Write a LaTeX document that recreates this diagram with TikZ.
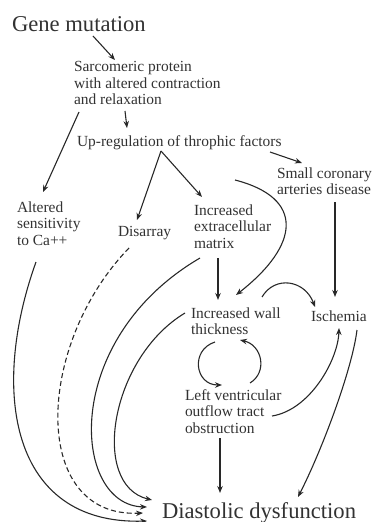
\documentclass[tikz,border=0pt]{standalone}
\usepackage{fontspec}
\setmainfont{Liberation Serif}
\usetikzlibrary{arrows.meta,calc}
\definecolor{ink}{RGB}{40,40,40}
\definecolor{txt}{RGB}{50,50,50}
\begin{document}
\begin{tikzpicture}[x=1bp,y=-1bp,
  sm/.style={anchor=north west,inner sep=0pt,outer sep=0pt,align=left,text=txt,font=\fontsize{15.5}{16.6}\selectfont},
  big/.style={anchor=north west,inner sep=0pt,outer sep=0pt,text=txt,font=\fontsize{22.7}{26}\selectfont},
  arr/.style={draw=ink,line width=1.1pt,-{Stealth[length=7pt,width=5.5pt]}},
  dsh/.style={arr,dash pattern=on 5pt off 3pt}]
\useasboundingbox (0,0) rectangle (372,522);
\node[big] (gene) at (12,16.5) {Gene mutation};
\node[sm] (sarc) at (74,61.4) {Sarcomeric protein\\with altered contraction\\and relaxation};
\node[sm] (upreg) at (77,135.4) {Up-regulation of throphic factors};
\node[sm] (small) at (277,167.4) {Small coronary\\arteries disease};
\node[sm] (altered) at (17,201.5) {Altered\\sensitivity\\to Ca++};
\node[sm] (disarray) at (118,226.7) {Disarray};
\node[sm] (matrix) at (194,204.4) {Increased\\extracellular\\matrix};
\node[sm] (wall) at (191,307.4) {Increased wall\\thickness};
\node[sm] (isch) at (311,310.4) {Ischemia};
\node[sm] (lvoto) at (185,389.4) {Left ventricular\\outflow tract\\obstruction};
\node[big] (diast) at (162,502.6) {Diastolic dysfunction};
% connectors
\draw[arr] ($(gene.north west)+(81,19.5)$) -- ($(sarc.north west)+(41,-1.4)$);
\draw[arr] ($(sarc.north west)+(51,49.6)$) -- ($(upreg.north west)+(50,-7.4)$);
\draw[arr] ($(sarc.north west)+(5,50.6)$) -- ($(altered.north west)+(26,-9.5)$);
\draw[arr] ($(upreg.north west)+(84,15.6)$) -- ($(disarray.north west)+(19,-6.7)$);
\draw[arr] ($(upreg.north west)+(84,15.6)$) -- ($(matrix.north west)+(8,-7.4)$);
\draw[arr] ($(upreg.north west)+(193,16.6)$) -- ($(small.north west)+(25,-4.4)$);
\draw[arr] ($(upreg.north west)+(158,44.6)$) .. controls (305,198) and (300,245) .. ($(wall.north west)+(45,-12.4)$);
\draw[arr] ($(matrix.north west)+(24,53.6)$) -- ($(wall.north west)+(27,-7.4)$);
\draw[arr] ($(small.north west)+(58,34.6)$) -- ($(isch.north west)+(24,-13.4)$);
\draw[arr] ($(wall.north west)+(71,-10.4)$) .. controls (275,275) and (305,280) .. ($(isch.north west)+(4,-3.4)$);
\draw[arr] ($(matrix.north west)+(6,53.6)$) .. controls (60,340) and (72,505) .. ($(diast.north west)+(-15,4.4)$);
\draw[arr] ($(altered.north west)+(19,60.5)$) .. controls (-10,390) and (10,525) .. ($(diast.north west)+(-15,18.4)$);
\draw[dsh] ($(disarray.north west)+(11,21.3)$) .. controls (35,345) and (30,518) .. ($(diast.north west)+(-19,10.4)$);
\draw[arr] ($(wall.north west)+(-6,5.6)$) .. controls (110,358) and (90,485) .. ($(diast.north west)+(-10,-2.6)$);
\draw[arr] ($(wall.north west)+(24,34.6)$) .. controls (190,350) and (195,385) .. ($(lvoto.north west)+(37,-4.4)$);
\draw[arr] ($(lvoto.north west)+(65,-6.4)$) .. controls (268,372) and (262,345) .. ($(wall.north west)+(49,32.6)$);
\draw[arr] ($(lvoto.north west)+(35,48.6)$) -- ($(diast.north west)+(58,-9.6)$);
\draw[arr] ($(lvoto.north west)+(87,26.6)$) .. controls (310,410) and (338,360) .. ($(isch.north west)+(28,17.6)$);
\draw[arr] ($(isch.north west)+(46,19.6)$) .. controls (352,370) and (322,450) .. ($(diast.north west)+(136,-5.6)$);
\end{tikzpicture}
\end{document}
